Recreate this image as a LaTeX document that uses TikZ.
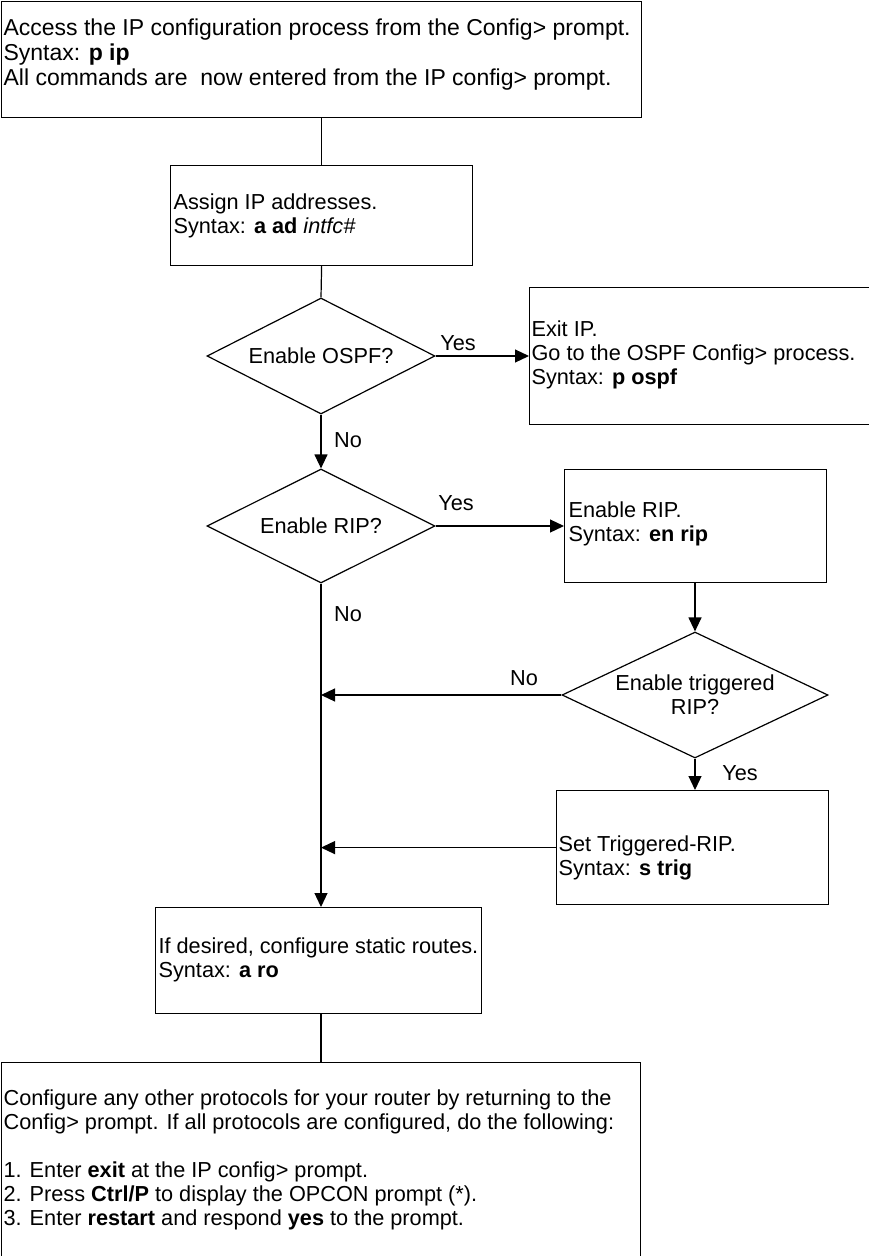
\documentclass[tikz,border=0pt]{standalone}
\usepackage{fontspec}
\setmainfont{Liberation Sans}
\usetikzlibrary{shapes.geometric,arrows.meta}
\begin{document}
\begin{tikzpicture}[x=1pt,y=-1pt,
  line width=1.2pt,
  pbox/.style={draw, inner sep=0pt, anchor=north west},
  dbox/.style={draw, diamond, inner sep=0pt},
  txt/.style={anchor=west, inner sep=0pt, align=left,
    font=\fontsize{21.7pt}{24pt}\selectfont},
  bigtxt/.style={txt, font=\fontsize{23pt}{25pt}\selectfont},
  ctxt/.style={inner sep=0pt, align=center,
    font=\fontsize{21.7pt}{24pt}\selectfont},
  arr/.style={-{Triangle[length=14pt,width=13pt]}}]
\useasboundingbox (0,0) rectangle (868,1256);

% process boxes
\node[pbox, minimum width=640pt, minimum height=116pt] (top) at (1,1) {};
\node[pbox, minimum width=302pt, minimum height=100pt] (assign) at (170,165) {};
\node[pbox, minimum width=340pt, minimum height=137pt] (ospf) at (529,287) {};
\node[pbox, minimum width=262pt, minimum height=113pt] (rip) at (564,469) {};
\node[pbox, minimum width=272pt, minimum height=114pt] (trig) at (556,790) {};
\node[pbox, minimum width=326pt, minimum height=106pt] (static) at (155,907) {};
\node[pbox, minimum width=639pt, minimum height=220pt] (final) at (1,1062) {};

% decisions
\node[dbox, minimum width=228pt, minimum height=116pt] (dospf) at (321,356) {};
\node[dbox, minimum width=228pt, minimum height=114pt] (drip) at (321,526) {};
\node[dbox, minimum width=266pt, minimum height=126pt] (dtrig) at (695,695) {};

% box texts
\node[bigtxt] (ttop) at (3,55) {Access the IP configuration process from the Config> prompt.\\
Syntax: \textbf{p ip}\\
All commands are\ \ now entered from the IP config> prompt.};
\node[txt] (tassign) at (173,216) {Assign IP addresses.\\Syntax: \textbf{a ad} \textit{intfc\#}};
\node[txt] (tospf) at (531,355) {Exit IP.\\Go to the OSPF Config> process.\\Syntax: \textbf{p ospf}};
\node[txt] (trip) at (568,524) {Enable RIP.\\Syntax: \textbf{en rip}};
\node[txt] (ttrig) at (558,858) {Set Triggered-RIP.\\Syntax: \textbf{s trig}};
\node[txt] (tstatic) at (158,960) {If desired, configure static routes.\\Syntax: \textbf{a ro}};
\node[txt] (tfinal) at (3,1160) {Configure any other protocols for your router by returning to the\\
Config> prompt. If all protocols are configured, do the following:\\[24pt]
1. Enter \textbf{exit} at the IP config> prompt.\\
2. Press \textbf{Ctrl/P} to display the OPCON prompt (*).\\
3. Enter \textbf{restart} and respond \textbf{yes} to the prompt.};

% decision texts
\node[ctxt] (tdospf) at (dospf.center) {Enable OSPF?};
\node[ctxt] (tdrip) at (drip.center) {Enable RIP?};
\node[ctxt] (tdtrig) at (dtrig.center) {Enable triggered\\RIP?};

% branch labels
\node[ctxt] (yospf) at (458,343) {Yes};
\node[ctxt] (nospf) at (348,440) {No};
\node[ctxt] (yrip) at (456,503) {Yes};
\node[ctxt] (nrip) at (348,614) {No};
\node[ctxt] (ntrig) at (524,678) {No};
\node[ctxt] (ytrig) at (740,773) {Yes};

% connectors
\draw (top.south) -- (assign.north);
\draw (assign.south) -- (dospf.north);
\draw[arr] (dospf.east) -- (dospf.east -| ospf.west);
\draw[arr] (dospf.south) -- (drip.north);
\draw[arr] (drip.east) -- (drip.east -| rip.west);
\draw[arr] (dtrig.north |- rip.south) -- (dtrig.north);
\draw[arr] (dtrig.west) -- (dtrig.west -| drip.south);
\draw[arr] (dtrig.south) -- (dtrig.south |- trig.north);
\draw[arr] (trig.west) -- (trig.west -| drip.south);
\draw[arr] (drip.south) -- (drip.south |- static.north);
\draw (static.south -| drip.south) -- (final.north -| drip.south);
\end{tikzpicture}
\end{document}
